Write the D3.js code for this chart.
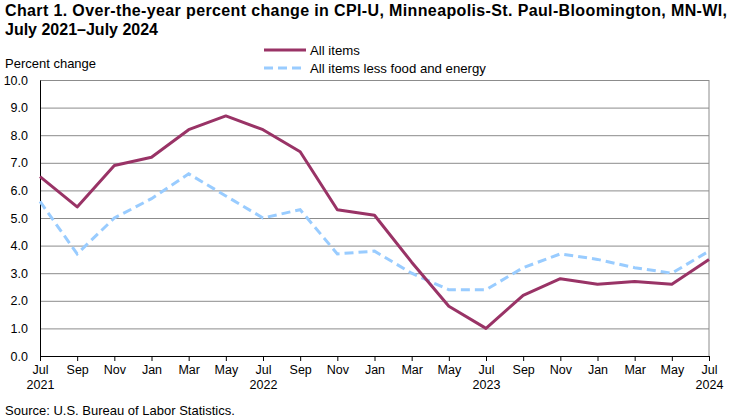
<!DOCTYPE html>
<html>
<head>
<meta charset="UTF-8">
<script src="https://d3js.org/d3.v7.min.js"></script>
<style>
  body { margin: 0; background: #fff; }
  text { font-family: "Liberation Sans", Arial, sans-serif; fill: #000; }
  .gridlines line { stroke: #8c8c8c; }
  .gridlines .domain { stroke: none; }
</style>
</head>
<body>
<svg id="chart" width="734" height="420"></svg>
<script>
  // data
  const months = ["Jul","Sep","Nov","Jan","Mar","May","Jul","Sep","Nov","Jan","Mar","May","Jul","Sep","Nov","Jan","Mar","May","Jul"];
  const years = {0: "2021", 6: "2022", 12: "2023", 18: "2024"};
  const allItems = [6.5, 5.4, 6.9, 7.2, 8.2, 8.7, 8.2, 7.4, 5.3, 5.1, 3.4, 1.8, 1.0, 2.2, 2.8, 2.6, 2.7, 2.6, 3.5];
  const lessFoodEnergy = [5.6, 3.7, 5.0, 5.7, 6.6, 5.8, 5.0, 5.3, 3.7, 3.8, 3.0, 2.4, 2.4, 3.2, 3.7, 3.5, 3.2, 3.0, 3.8];
  const yTicks = [0, 1, 2, 3, 4, 5, 6, 7, 8, 9, 10];

  const svg = d3.select("svg#chart");
  const margin = {"top": 80, "left": 40, "right": 25, "bottom": 64};
  const width = 734, height = 420;
  const chartWidth = width - margin.left - margin.right;
  const chartHeight = height - margin.top - margin.bottom;

  const xScale = d3.scaleLinear().domain([0, months.length - 1]).range([0, chartWidth]);
  const yScale = d3.scaleLinear().domain([0, 10]).range([chartHeight, 0]);

  let chart = svg.append("g")
                 .attr("transform", "translate(" + margin.left + "," + margin.top + ")");

  // title
  svg.append("text").attr("x", 5).attr("y", 16)
     .style("font-weight", "bold").style("font-size", "16px")
     .attr("textLength", 722).attr("lengthAdjust", "spacing")
     .text("Chart 1. Over-the-year percent change in CPI-U, Minneapolis-St. Paul-Bloomington, MN-WI,");
  svg.append("text").attr("x", 5).attr("y", 35)
     .style("font-weight", "bold").style("font-size", "16px")
     .text("July 2021\u2013July 2024");

  svg.append("text").attr("x", 5).attr("y", 68)
     .style("font-size", "13px").text("Percent change");

  // gridlines
  let grid = d3.axisLeft(yScale).tickValues(yTicks.slice(1)).tickFormat("").tickSize(-chartWidth);
  chart.append("g").attr("class", "gridlines").call(grid);

  // right border
  chart.append("line")
       .attr("x1", chartWidth).attr("x2", chartWidth)
       .attr("y1", 0).attr("y2", chartHeight)
       .attr("stroke", "#8c8c8c");

  // y axis
  let leftAxis = d3.axisLeft(yScale).tickValues(yTicks).tickSize(0).tickPadding(12).tickFormat(d3.format(".1f"));
  let yG = chart.append("g").call(leftAxis);
  yG.select(".domain").attr("stroke", "#000");
  yG.selectAll("text").style("font-size", "12.5px");

  // x axis
  let bottomAxis = d3.axisBottom(xScale).tickValues(d3.range(months.length))
                     .tickSizeInner(5).tickSizeOuter(0).tickPadding(4)
                     .tickFormat(i => months[i]);
  let xG = chart.append("g").attr("transform", "translate(0," + chartHeight + ")").call(bottomAxis);
  xG.select(".domain").attr("stroke", "#000");
  xG.selectAll("line").attr("stroke", "#000");
  xG.selectAll("text").style("font-size", "12.5px");
  xG.selectAll(".tick").filter(i => years[i] !== undefined)
    .append("text")
    .attr("y", 24).attr("dy", "0.71em")
    .attr("text-anchor", "middle")
    .style("font-size", "12.5px")
    .text(i => years[i]);
  xG.selectAll(".tick text").attr("fill", "#000");

  // lines
  const line = d3.line().x((d, i) => xScale(i)).y(d => yScale(d));

  chart.append("path").datum(lessFoodEnergy)
       .attr("fill", "none").attr("stroke", "#99ccff")
       .attr("stroke-width", 3).attr("stroke-dasharray", "9,5")
       .attr("d", line);

  chart.append("path").datum(allItems)
       .attr("fill", "none").attr("stroke", "#993366")
       .attr("stroke-width", 3).attr("stroke-linejoin", "round")
       .attr("d", line);

  // legend
  const legend = [
    {"name": "All items", "color": "#993366", "dash": null},
    {"name": "All items less food and energy", "color": "#99ccff", "dash": "9,5"}
  ];
  legend.forEach((d, i) => {
    let y = 50 + i * 18;
    svg.append("line")
       .attr("x1", 264).attr("x2", 306).attr("y1", y).attr("y2", y)
       .attr("stroke", d.color).attr("stroke-width", 3)
       .attr("stroke-dasharray", d.dash);
    svg.append("text").attr("x", 310).attr("y", y + 4.5)
       .style("font-size", "13.2px").text(d.name);
  });

  svg.append("text").attr("x", 5).attr("y", 415)
     .style("font-size", "13px").text("Source: U.S. Bureau of Labor Statistics.");
</script>
</body>
</html>
